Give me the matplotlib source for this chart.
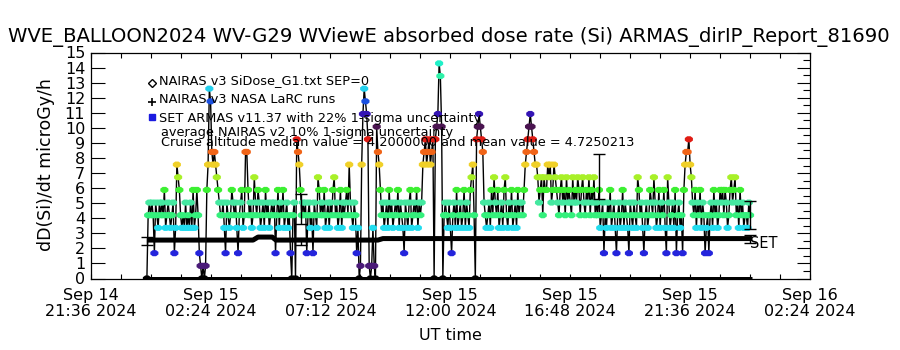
import numpy as np
import matplotlib
matplotlib.use("Agg")
import matplotlib.pyplot as plt
import matplotlib.dates as mdates
from matplotlib.lines import Line2D
from matplotlib.path import Path
from matplotlib import font_manager as fm
from datetime import datetime, timedelta

# ---------------- text ----------------
title = "WVE_BALLOON2024 WV-G29 WViewE absorbed dose rate (Si) ARMAS_dirIP_Report_81690"
ylabel = "dD(Si)/dt microGy/h"
xlabel = "UT time"
legend_labels = ["NAIRAS v3 SiDose_G1.txt SEP=0",
                 "NAIRAS v3 NASA LaRC runs",
                 "SET ARMAS v11.37 with 22% 1-sigma uncertainty"]
note_unc = "average NAIRAS v2 10% 1-sigma uncertainty"
note_stats = "Cruise altitude median value = 4.2000000 and mean value = 4.7250213"
end_label = "SET"

# ---------------- axes ----------------
x_start = datetime(2024, 9, 14, 21, 36)
x_end = datetime(2024, 9, 16, 2, 24)
x_tick_labels = ["Sep 14\n21:36 2024", "Sep 15\n02:24 2024", "Sep 15\n07:12 2024",
                 "Sep 15\n12:00 2024", "Sep 15\n16:48 2024", "Sep 15\n21:36 2024",
                 "Sep 16\n02:24 2024"]
y_ticks = list(range(0, 16))

# ---------------- ARMAS data ----------------
# one row per hour, 3-min cadence; each character is the ARMAS dose-rate level
# (multiples of the 0.84 uGy/h resolution, base-18 digit: a=10 ... h=17)
armas_start = datetime(2024, 9, 14, 23, 51)
armas_cadence_min = 3
armas_step = 0.84
armas_level_rows = [
    "05656526546565745654",
    "56249875454645464745",
    "7521010179fea9a98765",
    "5642654576564256745a",
    "a7564586576456475645",
    "65625746574564520560",
    "ba975656256452654875",
    "65745646578564574656",
    "7596546524019dfedb10",
    "1410ca97564564756456",
    "57465426546745657465",
    "69ab9ab9ab0bcdhgc056",
    "54642564745645746547",
    "8950bcdcba6545647586",
    "57456478546574564756",
    "6579abcdcba998678587",
    "79896798765786758676",
    "58676875786576857685",
    "65745625465745642564",
    "57465426546548756425",
    "64576586457465742864",
    "564725645279aab98657",
    "46574652452564756457",
    "67576457867856475645",
    "5465",
]
level_colors = ["#000000", "#4a1a78", "#2424dc", "#2850e8", "#22dcee", "#34f07c",
                "#44e8a0", "#3cf032", "#a8f028", "#f0d028", "#f06418", "#e01c14",
                "#4a1450", "#3414b4", "#1a50e0", "#22d0ee", "#2ef0a8", "#20f0c8"]

# ---------------- NAIRAS model (thick line) ----------------
nairas_time = [datetime(2024, 9, 14, 23, 51), datetime(2024, 9, 15, 4, 6),
               datetime(2024, 9, 15, 4, 18), datetime(2024, 9, 15, 4, 52),
               datetime(2024, 9, 15, 5, 1), datetime(2024, 9, 15, 9, 6),
               datetime(2024, 9, 15, 9, 18), datetime(2024, 9, 16, 0, 5)]
nairas_dose = [2.55, 2.55, 2.75, 2.75, 2.55, 2.55, 2.65, 2.65]

larc_time = [datetime(2024, 9, 14, 23, 51), datetime(2024, 9, 16, 0, 5)]
larc_dose = [0.0, 0.0]

# ---------------- uncertainty bars ----------------
armas_err_time = [datetime(2024, 9, 15, 6, 1), datetime(2024, 9, 15, 17, 58),
                  datetime(2024, 9, 16, 0, 0)]
armas_err_center = [4.6, 6.75, 4.2]
armas_rel_unc = 0.22
nairas_err_time = [datetime(2024, 9, 14, 23, 51), datetime(2024, 9, 15, 6, 1),
                   datetime(2024, 9, 16, 0, 0)]
nairas_err_center = [2.5, 2.45, 2.65]
nairas_rel_unc = 0.10

# ---------------- fonts ----------------
names = {f.name for f in fm.fontManager.ttflist}
NARROW = "Liberation Sans Narrow" if "Liberation Sans Narrow" in names else "DejaVu Sans"
BASE = "DejaVu Sans"
plt.rcParams["font.family"] = [BASE]

W, H = 900, 350
fig = plt.figure(figsize=(W / 100, H / 100), dpi=100)
L, R, T, B = 90.7, 810.0, 52.5, 278.5
ax = fig.add_axes([L / W, 1 - B / H, (R - L) / W, (B - T) / H])


def fx(px):
    return px / W


def fy(py):
    return 1 - py / H


# ARMAS series
armas_level = [int(c, 18) for c in "".join(armas_level_rows)]
armas_time = [armas_start + timedelta(minutes=armas_cadence_min * i) for i in range(len(armas_level))]
armas_dose = np.array(armas_level) * armas_step
armas_cols = [level_colors[k] for k in armas_level]
ax.plot(armas_time, armas_dose, color="black", lw=1.0, zorder=2)

oct_t = np.linspace(0, 2 * np.pi, 9)[:-1] + np.pi / 8
oct_path = Path(np.column_stack([np.cos(oct_t), 0.75 * np.sin(oct_t)]))
ax.scatter(armas_time, armas_dose, c=armas_cols, marker=oct_path, s=34,
           edgecolors="none", zorder=3)

# NAIRAS thick line and LaRC zero line
ax.plot(nairas_time, nairas_dose, color="black", lw=3.6, zorder=4, solid_capstyle="butt")
ax.plot(larc_time, larc_dose, color="black", lw=3.6, zorder=4, solid_capstyle="butt")

# error bars
ax.errorbar(armas_err_time, armas_err_center,
            yerr=np.array(armas_err_center) * armas_rel_unc, fmt="none",
            ecolor="black", elinewidth=1.0, capsize=4, capthick=1.0, zorder=5)
ax.errorbar(nairas_err_time, nairas_err_center,
            yerr=np.array(nairas_err_center) * nairas_rel_unc, fmt="none",
            ecolor="black", elinewidth=1.0, capsize=4, capthick=1.0, zorder=5)

# axes limits and ticks
ax.set_xlim(x_start, x_end)
ax.set_ylim(0, 15)
major = [mdates.date2num(x_start + timedelta(minutes=288 * i)) for i in range(len(x_tick_labels))]
minor = [mdates.date2num(x_start + timedelta(minutes=72 * i)) for i in range(25)]
ax.set_xticks(major)
ax.set_xticks(minor, minor=True)
ax.set_xticklabels(x_tick_labels, fontsize=11.5, linespacing=1.05)
ax.tick_params(axis="x", which="both", direction="in", top=True, bottom=True,
               length=3.5, width=0.8, pad=7)
ax.set_yticks(y_ticks)
ax.set_yticklabels([str(v) for v in y_ticks], fontsize=11.5, family=NARROW)
ax.tick_params(axis="y", which="major", direction="in", left=True, right=False,
               length=10, width=0.8, pad=4)
for s in ax.spines.values():
    s.set_linewidth(0.9)

ax2 = ax.twinx()
ax2.set_ylim(0, 15)
ax2.set_yticks(np.arange(0, 15.01, 1.0))
ax2.set_yticks(np.arange(0.5, 15, 1.0), minor=True)
ax2.tick_params(axis="y", which="major", direction="in", length=9.5, width=0.8, labelright=False)
ax2.tick_params(axis="y", which="minor", direction="in", length=5, width=0.8)
ax2.set_xlim(x_start, x_end)
for s in ax2.spines.values():
    s.set_visible(False)

# labels
renderer = fig.canvas.get_renderer()


def fit_width(t, target):
    w = t.get_window_extent(renderer).width
    t.set_fontsize(t.get_fontsize() * target / w)


t_title = fig.text(fx(449), fy(37), title, ha="center", va="center", fontsize=15)
fit_width(t_title, 886)
fig.text(fx(46), fy(165), ylabel, ha="center", va="center", rotation=90, fontsize=12.5)
fig.text(fx(450), fy(335), xlabel, ha="center", va="center", fontsize=11.5)

# legend
fs_leg = 9.3
fig.add_artist(Line2D([fx(151.7)], [fy(82.7)], marker="D", markersize=4, mfc="white",
                      mec="black", mew=1.0, ls="none"))
fig.add_artist(Line2D([fx(151.7)], [fy(101.5)], marker="+", markersize=6,
                      color="black", mew=1.2, ls="none"))
fig.add_artist(Line2D([fx(151.7)], [fy(117.3)], marker="s", markersize=4,
                      color="#1a1ae0", ls="none"))
leg_y = [81, 99.5, 118]
for lab, yy in zip(legend_labels, leg_y):
    fig.text(fx(159), fy(yy), lab, ha="left", va="center", fontsize=fs_leg)
fig.text(fx(161), fy(132.5), note_unc, ha="left", va="center", fontsize=fs_leg)
fig.text(fx(161), fy(142), note_stats, ha="left", va="center", fontsize=fs_leg)
fig.text(fx(750), fy(244), end_label, ha="left", va="center", fontsize=10.5)

fig.savefig("out.png", dpi=100)
